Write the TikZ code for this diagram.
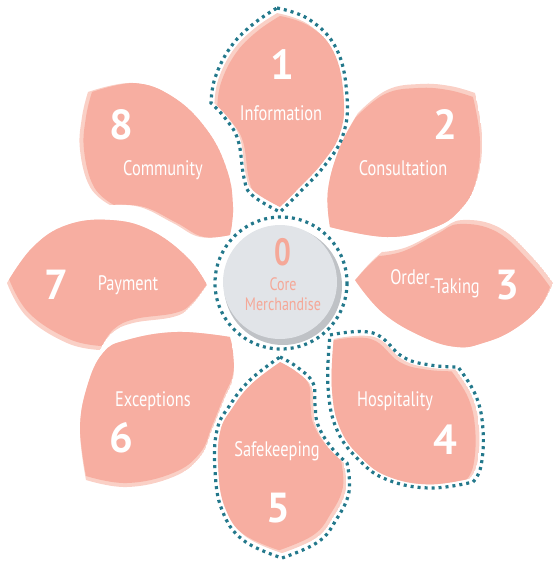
\documentclass[tikz,border=0pt]{standalone}
\usepackage{fontspec}
\setmainfont{PT Sans}
\newfontfamily\narrowfont{PT Sans}[FakeStretch=0.78]
\usetikzlibrary{calc}

\definecolor{petalpink}{HTML}{F7AEA1}
\definecolor{rimpink}{HTML}{FAD0C6}
\definecolor{ringteal}{HTML}{23788B}
\definecolor{coregray}{HTML}{E1E4E8}
\definecolor{shadegray}{HTML}{BFC2C6}
\definecolor{coretext}{HTML}{F5A898}

\tikzset{
  dotline/.style={draw=ringteal, line width=3.2pt, dash pattern=on 3pt off 4pt},
  num/.style={text=white, font=\fontsize{42}{42}\selectfont\bfseries},
  lbl/.style={text=white, font=\narrowfont\fontsize{21}{21}\selectfont},
  coretxt/.style={text=coretext, inner sep=0pt},
  smoothy/.style={smooth, tension=.7}
}

% petal: #1 = shift of the main colour (rim shows on the other side), #2 = outline
\newcommand\petal[2]{%
  \begin{scope}
    \clip #2;
    \fill[rimpink] #2;
    \fill[petalpink, shift={#1}] #2;
  \end{scope}}

\def\pathone{plot[smoothy] coordinates {(277,8) (310,20) (337,50) (347,97) (343,135) (325,165) (300,192) (280,212)}
  -- plot[smoothy] coordinates {(280,212) (252,195) (244,178) (238,140) (225,118) (211,103)}
  -- plot[smoothy] coordinates {(211,103) (215,78) (230,48) (252,25) (277,8)} -- cycle}
\def\pathtwo{plot[smoothy] coordinates {(358,113) (387,90) (420,84) (450,86) (475,93)}
  -- plot[smoothy] coordinates {(475,93) (482,137) (477,180) (460,210) (433,228) (387,237) (330,227)}
  -- plot[smoothy] coordinates {(330,227) (328,190) (340,147) (358,113)} -- cycle}
\def\paththree{plot[smoothy] coordinates {(355,280) (370,263) (382,252)}
  -- plot[smoothy] coordinates {(382,252) (407,247) (440,230) (463,220) (500,228) (533,258) (553,283)}
  -- plot[smoothy] coordinates {(553,283) (540,307) (513,330) (483,343) (457,347) (423,337) (383,313) (355,280)} -- cycle}
\def\pathfour{plot[smoothy] coordinates {(330,335) (373,333) (403,357) (430,365) (458,367)}
  -- plot[smoothy] coordinates {(458,367) (476,396) (483,430) (481,466) (473,482)}
  -- plot[smoothy] coordinates {(473,482) (430,488) (388,480) (360,461) (337,430) (328,387) (330,335)} -- cycle}
\def\pathfive{plot[smoothy] coordinates {(280,357) (297,367) (313,383) (315,405) (318,425) (331,447) (347,463)}
  -- plot[smoothy] coordinates {(347,463) (349,492) (336,520) (318,542) (282,558)}
  -- plot[smoothy] coordinates {(282,558) (243,540) (222,510) (215,470) (217,430) (230,405) (250,380) (280,357)} -- cycle}
\def\pathsix{plot[smoothy] coordinates {(230,337) (177,332) (127,340) (103,353) (87,387) (80,430) (86,480)}
  -- plot[smoothy] coordinates {(86,480) (127,487) (173,477) (200,457) (212,430) (224,400) (233,378) (233,353) (230,337)} -- cycle}
\def\pathseven{plot[smoothy] coordinates {(7,283) (33,247) (67,225) (110,220) (150,230) (187,257) (207,285)}
  -- plot[smoothy] coordinates {(207,285) (190,307) (173,317) (133,323) (112,333) (100,350)}
  -- plot[smoothy] coordinates {(100,350) (67,343) (27,317) (7,283)} -- cycle}
\def\patheight{plot[smoothy] coordinates {(88,92) (133,83) (173,97) (207,130) (227,170) (233,207) (230,235)}
  -- plot[smoothy] coordinates {(230,235) (200,237) (173,223) (140,207) (110,205)}
  -- plot[smoothy] coordinates {(110,205) (90,187) (80,150) (82,117) (88,92)} -- cycle}

\begin{document}
\begin{tikzpicture}[x=1pt, y=-1pt]
\useasboundingbox (0,0) rectangle (554,562);

% petals
\begin{scope}[scale around={0.95:(280,110)}] \petal{(3,3)}{\pathone} \end{scope}
\petal{(-2,4)}{\pathtwo}
\petal{(-3,4)}{\paththree}
\begin{scope}[scale around={0.95:(405,415)}] \petal{(-4,2)}{\pathfour} \end{scope}
\begin{scope}[scale around={0.95:(282,460)}] \petal{(-3,-3)}{\pathfive} \end{scope}
\petal{(0,-4)}{\pathsix}
\petal{(2,-4)}{\pathseven}
\petal{(4,0)}{\patheight}

% dotted outlines
\draw[dotline] \pathone;
\draw[dotline] \pathfour;
\draw[dotline] \pathfive;

% core
\draw[dotline] (281,283) circle (66);
\fill[shadegray] (283,286) circle (59);
\fill[coregray] (280,282) circle (57);
\node[coretxt, font=\narrowfont\fontsize{38}{38}\selectfont\bfseries] (zero) at (283,252) {0};
\node[coretxt, font=\narrowfont\fontsize{18}{18}\selectfont] (core) at (283,284) {Core};
\node[coretxt, font=\narrowfont\fontsize{18}{18}\selectfont] (merch) at (283,304) {Merchandise};

% numbers
\node[num] (n1) at (282,65) {1};
\node[num] (n2) at (445,125) {2};
\node[num] (n3) at (507,285) {3};
\node[num] (n4) at (445,440) {4};
\node[num] (n5) at (278,508) {5};
\node[num] (n6) at (121,438) {6};
\node[num] (n7) at (56,285) {7};
\node[num] (n8) at (121,125) {8};

% labels
\node[lbl] (l1) at (281,113) {Information};
\node[lbl] (l2) at (403,168) {Consultation};
\node[lbl] (l3) at (435,284) {Order\raisebox{-.45em}{-Taking}};
\node[lbl] (l4) at (395,401) {Hospitality};
\node[lbl] (l5) at (277,451) {Safekeeping};
\node[lbl] (l6) at (153,401) {Exceptions};
\node[lbl] (l7) at (128,285) {Payment};
\node[lbl] (l8) at (163,170) {Community};
\end{tikzpicture}
\end{document}
